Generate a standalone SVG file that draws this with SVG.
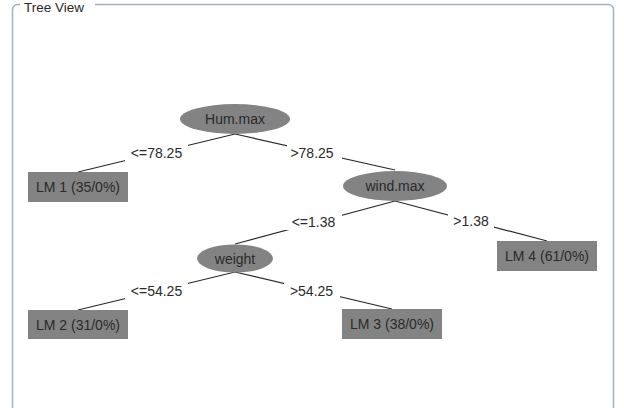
<svg xmlns="http://www.w3.org/2000/svg" width="624" height="408" viewBox="0 0 624 408">
<style>
  text { font-family: "Liberation Sans", Arial, sans-serif; font-size: 14px; fill: #2a2a2a; }
  .node { fill: #838383; }
  .edge { stroke: #2a2a2a; stroke-width: 1.2; fill: none; }
  .lbg { fill: #ffffff; }
  .frame { fill: none; stroke: #a3b0bd; stroke-width: 1.5; }
</style>
<rect x="0" y="0" width="624" height="408" fill="#ffffff"/>
<g id="frame">
  <rect class="frame" x="12.5" y="4.5" width="601" height="420" rx="5"/>
  <rect x="20" y="0" width="75" height="10" fill="#ffffff"/>
  <text x="24" y="12" style="font-size:13.5px">Tree View</text>
</g>
<g id="connectors">
  <line class="edge" x1="235" y1="134" x2="78" y2="172"/>
  <line class="edge" x1="235" y1="134" x2="395" y2="170"/>
  <line class="edge" x1="395" y1="201" x2="235" y2="244"/>
  <line class="edge" x1="395" y1="201" x2="547" y2="241"/>
  <line class="edge" x1="235" y1="272" x2="78" y2="310"/>
  <line class="edge" x1="235" y1="272" x2="392" y2="309"/>
  <rect class="lbg" x="125" y="145" width="63" height="16"/>
  <text x="156.5" y="158" text-anchor="middle">&lt;=78.25</text>
  <rect class="lbg" x="287" y="145" width="55" height="16"/>
  <text x="312" y="158" text-anchor="middle">&gt;78.25</text>
  <rect class="lbg" x="285" y="214" width="57" height="16"/>
  <text x="313.5" y="227" text-anchor="middle">&lt;=1.38</text>
  <rect class="lbg" x="448" y="213" width="46" height="16"/>
  <text x="471" y="226" text-anchor="middle">&gt;1.38</text>
  <rect class="lbg" x="125" y="283" width="63" height="16"/>
  <text x="156.5" y="296" text-anchor="middle">&lt;=54.25</text>
  <rect class="lbg" x="284" y="283" width="56" height="16"/>
  <text x="311.5" y="296" text-anchor="middle">&gt;54.25</text>
</g>
<g id="n-hum">
  <ellipse class="node" cx="235" cy="119" rx="55" ry="15"/>
  <text x="235" y="124" text-anchor="middle">Hum.max</text>
</g>
<g id="n-wind">
  <ellipse class="node" cx="395" cy="186" rx="52" ry="15"/>
  <text x="395" y="191" text-anchor="middle">wind.max</text>
</g>
<g id="n-weight">
  <ellipse class="node" cx="235" cy="258.5" rx="38" ry="14"/>
  <text x="235" y="263.5" text-anchor="middle">weight</text>
</g>
<g id="n-lm1">
  <rect class="node" x="28" y="172" width="100" height="30"/>
  <text x="78" y="192" text-anchor="middle">LM 1 (35/0%)</text>
</g>
<g id="n-lm4">
  <rect class="node" x="497" y="241" width="100" height="30"/>
  <text x="547" y="261" text-anchor="middle">LM 4 (61/0%)</text>
</g>
<g id="n-lm2">
  <rect class="node" x="28" y="310" width="100" height="29"/>
  <text x="78" y="330" text-anchor="middle">LM 2 (31/0%)</text>
</g>
<g id="n-lm3">
  <rect class="node" x="342" y="309" width="100" height="30"/>
  <text x="392" y="329" text-anchor="middle">LM 3 (38/0%)</text>
</g>
</svg>
